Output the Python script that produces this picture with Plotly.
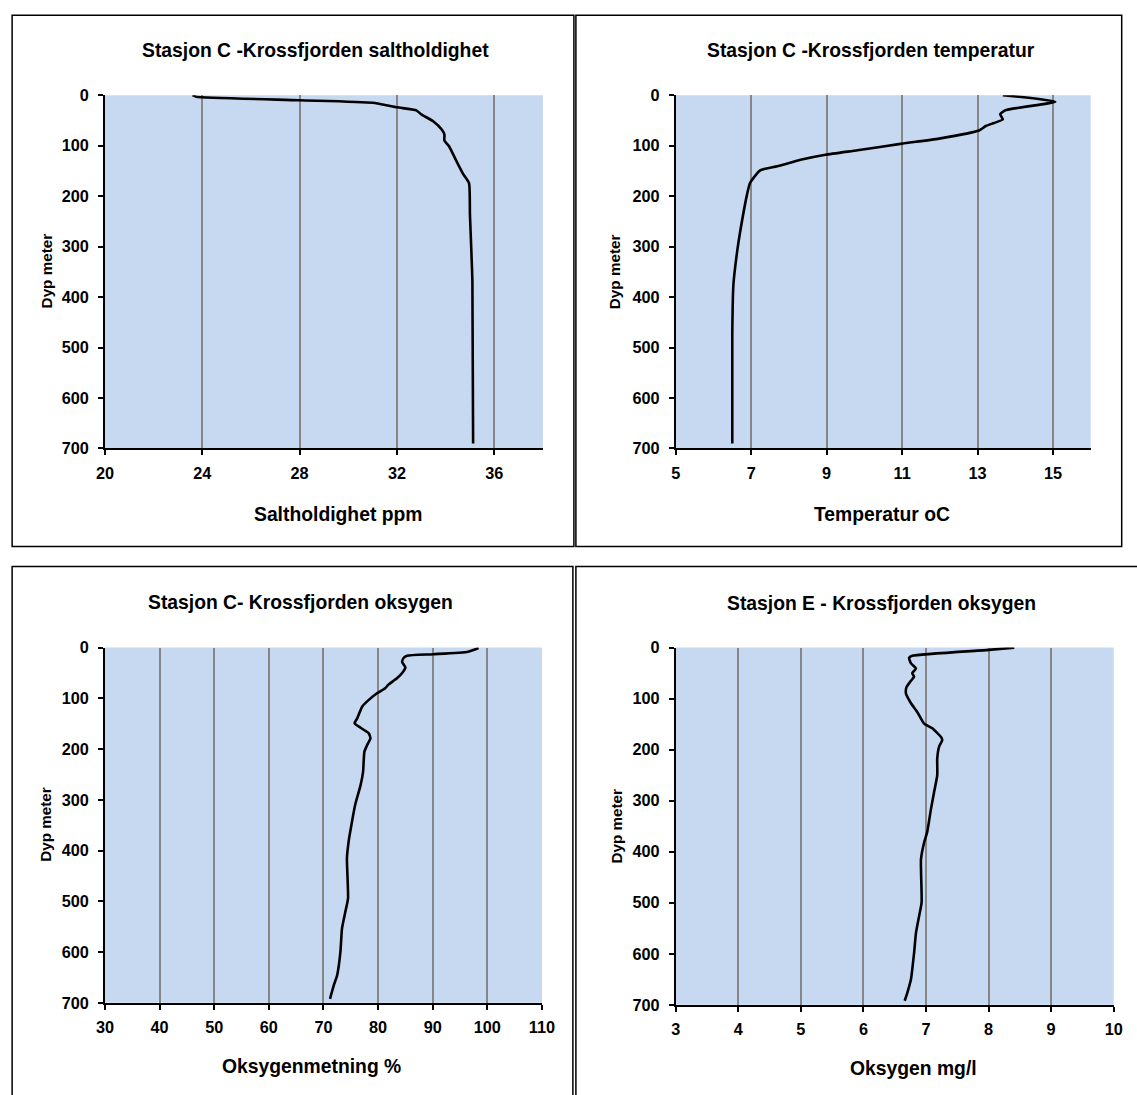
import plotly.graph_objects as go

# ---- Profile data (depth in metres) ----
salt_depth = [0, 3, 10, 15, 24, 30, 38, 52, 68, 78, 90, 101, 131, 157, 174, 237, 369, 690]
salt_value = [23.6, 23.75, 28.0, 31.0, 32.0, 32.8, 33.0, 33.5, 33.84, 33.95, 33.95, 34.14,
              34.45, 34.73, 34.96, 35.0, 35.1, 35.13]

temp_depth = [0, 13, 30, 38, 48, 55, 61, 70, 86, 96, 109, 118, 128, 141, 149, 174, 197,
              270, 309, 375, 475, 690]
temp_value = [13.67, 15.06, 13.73, 13.6, 13.67, 13.44, 13.22, 13.04, 11.98, 11.0, 9.82, 8.97,
              8.31, 7.69, 7.24, 6.97, 6.89, 6.71, 6.63, 6.53, 6.50, 6.50]

oxy_pct_depth = [1, 8, 13, 16, 20, 28, 39, 50, 60, 73, 80, 90, 103, 116, 139, 149, 158, 169,
                 179, 192, 205, 245, 271, 310, 363, 383, 415, 494, 521, 553, 600, 646, 665, 692]
oxy_pct_value = [98.4, 96.5, 90.1, 85.3, 84.7, 84.4, 85.0, 84.4, 83.5, 81.9, 81.3, 79.8, 78.3,
                 77.1, 76.2, 75.7, 76.8, 78.3, 78.6, 78.0, 77.5, 77.25, 76.8, 75.8, 74.9, 74.6,
                 74.3, 74.5, 74.0, 73.4, 73.1, 72.5, 71.9, 71.2]

oxy_mg_depth = [0, 4.5, 16, 20, 31, 41, 50, 57, 65, 77, 90, 109, 126, 149, 158, 175, 181, 194,
                217, 250, 283, 316, 361, 382, 415, 499, 526, 559, 598, 650, 677, 692]
oxy_mg_value = [8.41, 8.0, 6.78, 6.73, 6.76, 6.84, 6.78, 6.81, 6.76, 6.69, 6.68, 6.76, 6.86,
                6.97, 7.10, 7.24, 7.26, 7.21, 7.18, 7.18, 7.13, 7.08, 7.02, 6.97, 6.92, 6.93,
                6.89, 6.84, 6.81, 6.76, 6.70, 6.66]

titles = ["Stasjon C -Krossfjorden saltholdighet", "Stasjon C -Krossfjorden temperatur",
          "Stasjon C- Krossfjorden oksygen", "Stasjon E - Krossfjorden oksygen"]
x_titles = ["Saltholdighet ppm", "Temperatur oC", "Oksygenmetning %", "Oksygen mg/l"]
y_title = "Dyp meter"

# ---- Page geometry ----
# Layout positions are given in page pixels; K converts them to figure pixels
# (the page keeps its default 8px body margin).
PAGE_W, PAGE_H = 1137, 1095
BODY_MARGIN = 8
K = 1 / 0.983
W = round(PAGE_W * K - BODY_MARGIN)
H = round(PAGE_H * K - BODY_MARGIN)
FONT = "Liberation Sans, Arial, sans-serif"


def fx(p):
    return (p * K - BODY_MARGIN) / W


def fy(p):
    return 1 - (p * K - BODY_MARGIN) / H


def fs(size):
    return size * K


panels = [
    dict(x=salt_value, y=salt_depth, plot=(104, 543, 94, 447), xr=(20, 38), dx=4,
         box=(11, 574, 14, 545), title=(315, 49), xt=(338, 513), yt=(45, 270)),
    dict(x=temp_value, y=temp_depth, plot=(676, 1092, 94, 447), xr=(5, 16), dx=2,
         box=(576, 1123, 14, 545), title=(872, 49), xt=(883, 513), yt=(615, 270)),
    dict(x=oxy_pct_value, y=oxy_pct_depth, plot=(104, 542, 646, 1001), xr=(30, 110), dx=10,
         box=(11, 573, 565, 1120), title=(300, 601), xt=(311, 1065), yt=(45, 823)),
    dict(x=oxy_mg_value, y=oxy_mg_depth, plot=(676, 1115, 646, 1003), xr=(3, 10), dx=1,
         box=(576, 1170, 565, 1120), title=(882, 602), xt=(914, 1067), yt=(617, 824)),
]

fig = go.Figure()
shapes = []
annotations = []
layout_axes = {}

for i, p in enumerate(panels):
    n = "" if i == 0 else str(i + 1)
    fig.add_trace(go.Scatter(
        x=p["x"], y=p["y"], mode="lines",
        line=dict(color="black", width=2.6, shape="spline", smoothing=0.5),
        xaxis="x" + n, yaxis="y" + n, showlegend=False, hoverinfo="skip"))

    x0, x1, y0, y1 = p["plot"]
    tickfont = dict(family=FONT, size=fs(16), color="black", weight="bold")
    layout_axes["xaxis" + n] = dict(
        domain=[fx(x0), fx(x1)], range=list(p["xr"]), dtick=p["dx"], tick0=p["xr"][0],
        anchor="y" + n, showgrid=True, gridcolor="#878787", gridwidth=1.5,
        showline=True, linecolor="black", linewidth=1.5, zeroline=False,
        ticks="outside", ticklen=5, tickwidth=1.5, tickcolor="black",
        tickfont=tickfont, ticklabelstandoff=4, fixedrange=True)
    layout_axes["yaxis" + n] = dict(
        domain=[fy(y1), fy(y0)], range=[700, 0], dtick=100, tick0=0,
        anchor="x" + n, showgrid=False,
        showline=True, linecolor="black", linewidth=1.5, zeroline=False,
        ticks="outside", ticklen=5, tickwidth=1.5, tickcolor="black",
        tickfont=tickfont, ticklabelstandoff=6, fixedrange=True)

    # plot-area background
    shapes.append(dict(type="rect", xref="paper", yref="paper", layer="below",
                       x0=fx(x0), x1=fx(x1), y0=fy(y1), y1=fy(y0),
                       fillcolor="#c6d9f1", line=dict(width=0)))
    # chart frame
    bx0, bx1, by0, by1 = p["box"]
    shapes.append(dict(type="rect", xref="paper", yref="paper", layer="below",
                       x0=fx(bx0), x1=fx(bx1), y0=fy(by1), y1=fy(by0),
                       fillcolor="rgba(0,0,0,0)", line=dict(color="black", width=1.5)))

    tx, ty = p["title"]
    annotations.append(dict(text=titles[i], x=fx(tx), y=fy(ty), xref="paper", yref="paper",
                            xanchor="center", yanchor="middle", showarrow=False,
                            font=dict(family=FONT, size=fs(19), color="black", weight="bold")))
    ax, ay = p["xt"]
    annotations.append(dict(text=x_titles[i], x=fx(ax), y=fy(ay), xref="paper", yref="paper",
                            xanchor="center", yanchor="middle", showarrow=False,
                            font=dict(family=FONT, size=fs(19), color="black", weight="bold")))
    yx, yy = p["yt"]
    annotations.append(dict(text=y_title, x=fx(yx), y=fy(yy), xref="paper", yref="paper",
                            xanchor="center", yanchor="middle", showarrow=False, textangle=-90,
                            font=dict(family=FONT, size=fs(15), color="black", weight="bold")))

fig.update_layout(
    width=W, height=H, margin=dict(l=0, r=0, t=0, b=0),
    paper_bgcolor="white", plot_bgcolor="rgba(0,0,0,0)",
    shapes=shapes, annotations=annotations, **layout_axes)

fig.write_html("out.html", config={"displayModeBar": False})
